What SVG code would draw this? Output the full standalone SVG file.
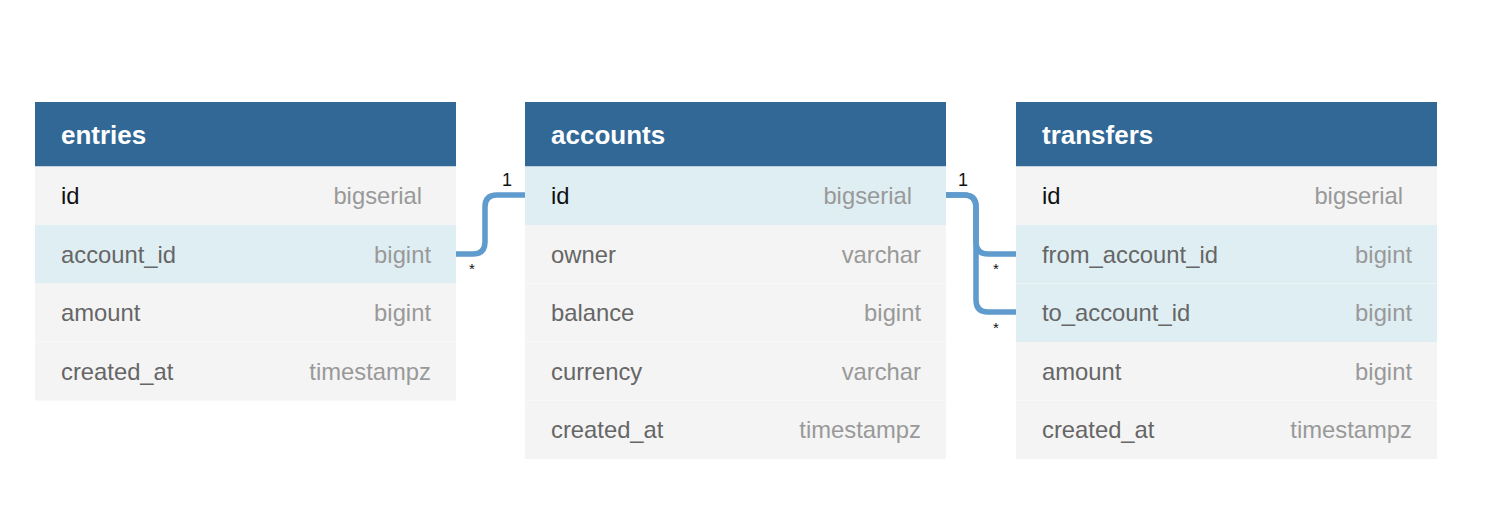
<svg xmlns="http://www.w3.org/2000/svg" width="1494" height="531" viewBox="0 0 1494 531">
<style>
.hdr{fill:#316896}
.row{fill:#f4f4f4}
.hl{fill:#dfeef3}
.sep{stroke:#ffffff;stroke-opacity:0.35;stroke-width:1}
.title{font-family:"Liberation Sans",Arial,sans-serif;font-size:26px;font-weight:bold;fill:#ffffff}
.fn{font-family:"Liberation Sans",Arial,sans-serif;font-size:23.8px;fill:#666666}
.pk{fill:#111111}
.ty{font-family:"Liberation Sans",Arial,sans-serif;font-size:23.8px;fill:#999999;text-anchor:end}
.conn{fill:none;stroke:#5f9bcd;stroke-width:5.5}
.lbl{font-family:"Liberation Sans",Arial,sans-serif;font-size:18px;fill:#111111}
.star{font-family:"Liberation Sans",Arial,sans-serif;font-size:15px;fill:#111111}
</style>
<rect width="1494" height="531" fill="#ffffff"/>
<g id="connectors">
<path class="conn" d="M456,254 H473 Q485,254 485,242 V207 Q485,195 497,195 H525"/>
<path class="conn" d="M946,195 H964 Q976,195 976,207 V242 Q976,254 988,254 H1016"/>
<path class="conn" d="M946,195 H964 Q976,195 976,207 V300 Q976,312 988,312 H1016"/>
<text class="lbl" x="502" y="186">1</text>
<text class="star" x="469" y="274">*</text>
<text class="lbl" x="958" y="186">1</text>
<text class="star" x="993" y="274">*</text>
<text class="star" x="993" y="333">*</text>
</g>
<g id="entries">
<rect class="hdr" x="35" y="102" width="421" height="64.5"/>
<rect class="row" x="35" y="166.5" width="421" height="58.5"/>
<rect class="hl" x="35" y="225" width="421" height="58.5"/>
<rect class="row" x="35" y="283.5" width="421" height="117"/>
<line class="sep" x1="35" y1="342" x2="456" y2="342"/>
<text class="title" x="61" y="144">entries</text>
<text class="fn pk" x="61" y="204">id</text><text class="ty" x="422" y="204">bigserial</text>
<text class="fn" x="61" y="262.5">account_id</text><text class="ty" x="431" y="262.5">bigint</text>
<text class="fn" x="61" y="321">amount</text><text class="ty" x="431" y="321">bigint</text>
<text class="fn" x="61" y="379.5">created_at</text><text class="ty" x="431" y="379.5">timestampz</text>
</g>
<g id="accounts">
<rect class="hdr" x="525" y="102" width="421" height="64.5"/>
<rect class="hl" x="525" y="166.5" width="421" height="58.5"/>
<rect class="row" x="525" y="225" width="421" height="234"/>
<line class="sep" x1="525" y1="283.5" x2="946" y2="283.5"/>
<line class="sep" x1="525" y1="342" x2="946" y2="342"/>
<line class="sep" x1="525" y1="400.5" x2="946" y2="400.5"/>
<text class="title" x="551" y="144">accounts</text>
<text class="fn pk" x="551" y="204">id</text><text class="ty" x="912" y="204">bigserial</text>
<text class="fn" x="551" y="262.5">owner</text><text class="ty" x="921" y="262.5">varchar</text>
<text class="fn" x="551" y="321">balance</text><text class="ty" x="921" y="321">bigint</text>
<text class="fn" x="551" y="379.5">currency</text><text class="ty" x="921" y="379.5">varchar</text>
<text class="fn" x="551" y="438">created_at</text><text class="ty" x="921" y="438">timestampz</text>
</g>
<g id="transfers">
<rect class="hdr" x="1016" y="102" width="421" height="64.5"/>
<rect class="row" x="1016" y="166.5" width="421" height="58.5"/>
<rect class="hl" x="1016" y="225" width="421" height="117"/>
<rect class="row" x="1016" y="342" width="421" height="117"/>
<line class="sep" x1="1016" y1="283.5" x2="1437" y2="283.5"/>
<line class="sep" x1="1016" y1="400.5" x2="1437" y2="400.5"/>
<text class="title" x="1042" y="144">transfers</text>
<text class="fn pk" x="1042" y="204">id</text><text class="ty" x="1403" y="204">bigserial</text>
<text class="fn" x="1042" y="262.5">from_account_id</text><text class="ty" x="1412" y="262.5">bigint</text>
<text class="fn" x="1042" y="321">to_account_id</text><text class="ty" x="1412" y="321">bigint</text>
<text class="fn" x="1042" y="379.5">amount</text><text class="ty" x="1412" y="379.5">bigint</text>
<text class="fn" x="1042" y="438">created_at</text><text class="ty" x="1412" y="438">timestampz</text>
</g>
</svg>
